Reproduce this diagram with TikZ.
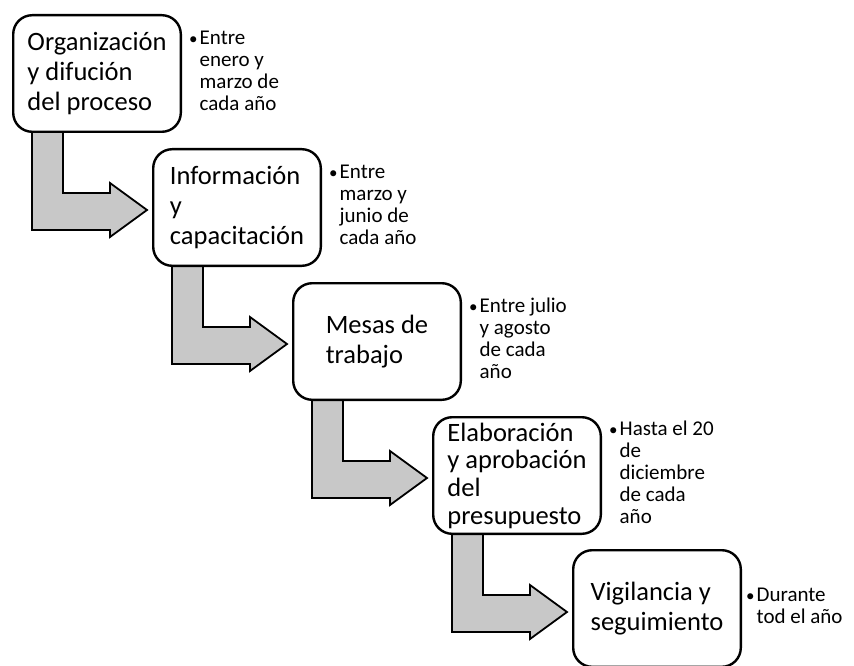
\documentclass[tikz,border=0pt]{standalone}
\usepackage{fontspec}
\setmainfont{Carlito}
\usetikzlibrary{positioning,calc,backgrounds}

\definecolor{relleno}{RGB}{200,200,200}

% bullet followed by a left aligned block
\newcommand{\punto}[1]{\begin{tabular}{@{}l@{\hspace{2pt}}l@{}}{\fontsize{17}{22}\selectfont\textbullet}&\begin{tabular}[t]{@{}l@{}}#1\end{tabular}\end{tabular}}

% bent block arrow leaving the bottom of a stage
\newcommand{\flecha}[1]{%
  \draw[flecha] ($(#1.south west)+(20,-2)$) -- ++(0,99) -- ++(78,0) -- ++(0,7)
    -- ++(37,-27) -- ++(-37,-27) -- ++(0,10) -- ++(-47,0) -- ++(0,-62) -- cycle;}

\begin{document}
\begin{tikzpicture}
[x=1pt, y=-1pt, node distance=15pt and -30pt,
etapa/.style={
  draw, line width=2.4pt, rounded corners=19pt, fill=white,
  minimum width=167.6pt, minimum height=116.6pt,
  align=left, font=\fontsize{26.5}{30}\selectfont, inner sep=2pt
  },
nota/.style={font=\fontsize{21}{22}\selectfont, inner sep=0pt, right=7pt},
flecha/.style={draw, line width=1.8pt, fill=relleno}
]

\useasboundingbox (0,0) rectangle (854,666);

\node[etapa] (e1) at (97,73.5) {Organización\\y difución\\del proceso};
\node[etapa] (e2) [below right=15pt and -30pt of e1] {Información\\y\\capacitación};
\node[etapa] (e3) [below right=15pt and -30pt of e2] {Mesas de\\trabajo};
\node[etapa, font=\fontsize{26.5}{27.7}\selectfont] (e4) [below right=15pt and -30pt of e3] {Elaboración\\y aprobación\\del\\presupuesto};
\node[etapa] (e5) [below right=14pt and -30pt of e4] {Vigilancia y\\seguimiento};

% dates
\node[nota] (f1) at (e1.east) {\punto{Entre\\enero y\\marzo de\\cada año}};
\node[nota] (f2) at (e2.east) {\punto{Entre\\marzo y\\junio de\\cada año}};
\node[nota] (f3) at (e3.east) {\punto{Entre julio\\y agosto\\de cada\\año}};
\node[nota] (f4) at (e4.east) {\punto{Hasta el 20\\de\\diciembre\\de cada\\año}};
\node[nota, right=4pt] (f5) at (e5.east) {\punto{Durante\\tod el año}};

%arrows
\begin{scope}[on background layer]
\flecha{e1}
\flecha{e2}
\flecha{e3}
\flecha{e4}
\end{scope}

\end{tikzpicture}
\end{document}
